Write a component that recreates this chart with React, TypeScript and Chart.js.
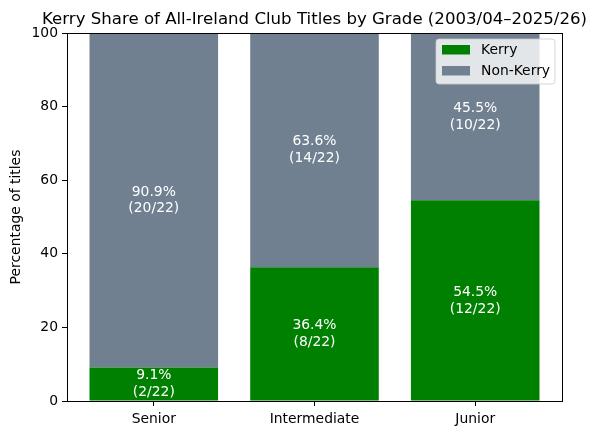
import React, { useEffect, useRef } from "react";
import { Chart, registerables } from "chart.js";

Chart.register(...registerables);

const categories = ["Senior", "Intermediate", "Junior"];
const kerryTitles = [2, 8, 12];
const totalTitles = [22, 22, 22];
const yTicks = [0, 20, 40, 60, 80, 100];
const chartTitle = "Kerry Share of All-Ireland Club Titles by Grade (2003/04\u20132025/26)";
const seriesNames = ["Kerry", "Non-Kerry"];
const seriesColors = ["#008000", "#708090"];

const FONT = "DejaVu Sans";
const FS = 13.9;

export default function App() {
  const ref = useRef<HTMLCanvasElement | null>(null);
  useEffect(() => {
    if (!ref.current) return;
    const nonKerry = totalTitles.map((t, i) => t - kerryTitles[i]);
    const counts = [kerryTitles, nonKerry];
    const pct = counts.map((arr) => arr.map((v, i) => (v / totalTitles[i]) * 100));

    const framePlugin = {
      id: "frame",
      afterDraw(chart: any) {
        const { ctx, chartArea: a } = chart;
        ctx.save();
        ctx.strokeStyle = "#000";
        ctx.lineWidth = 1;
        ctx.strokeRect(Math.round(a.left) + 0.5, Math.round(a.top) + 0.5, Math.round(a.right - a.left), Math.round(a.bottom - a.top));
        // title
        ctx.fillStyle = "#000";
        ctx.font = `16.6px "${FONT}"`;
        ctx.textAlign = "center";
        ctx.textBaseline = "alphabetic";
        ctx.fillText(chartTitle, (a.left + a.right) / 2, a.top - 9);
        // bar labels
        ctx.font = `${FS}px "${FONT}"`;
        ctx.fillStyle = "#fff";
        ctx.textBaseline = "middle";
        chart.data.datasets.forEach((ds: any, di: number) => {
          const meta = chart.getDatasetMeta(di);
          meta.data.forEach((el: any, i: number) => {
            const cy = (el.y + el.base) / 2;
            const l1 = pct[di][i].toFixed(1) + "%";
            const l2 = `(${counts[di][i]}/${totalTitles[i]})`;
            ctx.fillText(l1, el.x, cy - 8.3);
            ctx.fillText(l2, el.x, cy + 8.6);
          });
        });
        // legend
        const bx = a.right - 126, by = a.top + 6, bw = 119, bh = 45, r = 3;
        ctx.globalAlpha = 0.8;
        ctx.fillStyle = "#fff";
        ctx.beginPath();
        ctx.moveTo(bx + r, by);
        ctx.arcTo(bx + bw, by, bx + bw, by + bh, r);
        ctx.arcTo(bx + bw, by + bh, bx, by + bh, r);
        ctx.arcTo(bx, by + bh, bx, by, r);
        ctx.arcTo(bx, by, bx + bw, by, r);
        ctx.closePath();
        ctx.fill();
        ctx.strokeStyle = "#cccccc";
        ctx.stroke();
        ctx.globalAlpha = 1;
        ctx.textAlign = "left";
        chart.data.datasets.forEach((ds: any, di: number) => {
          const ry = by + 11 + di * 21;
          ctx.fillStyle = ds.backgroundColor;
          ctx.fillRect(bx + 6, ry - 5, 28, 9.5);
          ctx.fillStyle = "#000";
          ctx.fillText(ds.label, bx + 45, ry);
        });
        ctx.restore();
      },
    };

    const chart = new Chart(ref.current, {
      type: "bar",
      data: {
        datasets: seriesNames.map((name, di) => ({
          label: name,
          data: pct[di].map((v, i) => ({ x: i, y: v })),
          backgroundColor: seriesColors[di],
          borderWidth: 0,
          barPercentage: 0.8,
          categoryPercentage: 1,
        })),
      },
      options: {
        responsive: false,
        animation: false,
        layout: { padding: { top: 33, right: 34, left: 0, bottom: 0 } },
        plugins: { legend: { display: false }, title: { display: false }, tooltip: { enabled: false } },
        scales: {
          x: {
            type: "linear",
            stacked: true,
            offset: false,
            min: -0.54,
            max: 2.54,
            afterBuildTicks: (s: any) => {
              s.ticks = categories.map((_, i) => ({ value: i }));
            },
            afterFit: (s: any) => {
              s.height = 34;
            },
            ticks: {
              callback: (v: any) => categories[v] ?? "",
              color: "#000",
              font: { family: FONT, size: FS },
              padding: 5,
              maxRotation: 0,
              autoSkip: false,
            },
            grid: { drawOnChartArea: false, offset: false, tickLength: 5, color: "#000" },
            border: { display: true, color: "#000" },
          },
          y: {
            stacked: true,
            min: 0,
            max: 100,
            afterBuildTicks: (s: any) => {
              s.ticks = yTicks.map((v) => ({ value: v }));
            },
            afterFit: (s: any) => {
              s.width = 67;
            },
            ticks: {
              color: "#000",
              font: { family: FONT, size: FS },
              padding: 4,
            },
            grid: { drawOnChartArea: false, tickLength: 5, color: "#000" },
            border: { display: true, color: "#000" },
            title: {
              display: true,
              text: "Percentage of titles",
              color: "#000",
              font: { family: FONT, size: FS },
              padding: { top: 8, bottom: 0 },
            },
          },
        },
      },
      plugins: [framePlugin],
    });
    return () => chart.destroy();
  }, []);
  return (
    <div style={{ position: "fixed", left: 0, top: 0, width: 596, height: 435, background: "#fff" }}>
      <canvas ref={ref} width={596} height={435} />
    </div>
  );
}
